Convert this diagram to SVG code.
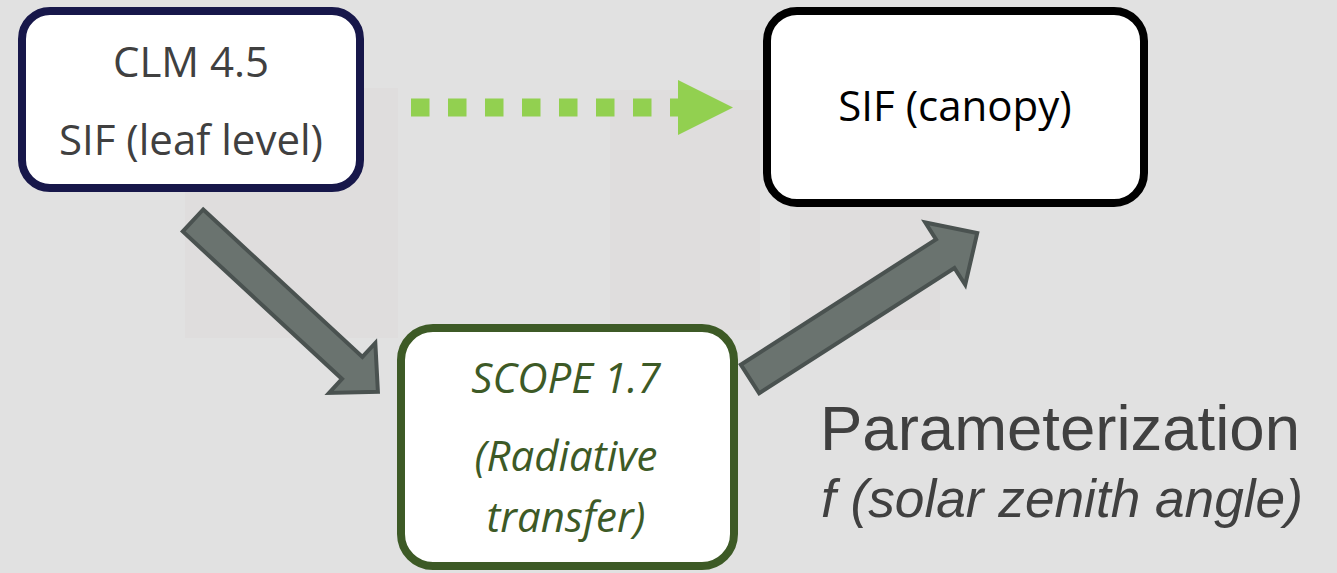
<svg xmlns="http://www.w3.org/2000/svg" width="1337" height="573" viewBox="0 0 1337 573">
  <style>
    .box { fill: #ffffff; stroke-width: 8; }
    .lbl { font-family: "Open Sans", "Noto Sans", sans-serif; font-size: 42px; text-anchor: middle; }
    .block { fill: #6a736f; stroke: #4a5250; stroke-width: 4; stroke-linejoin: miter; }
    .note { font-family: "Liberation Sans", Arial, sans-serif; fill: #404040; }
  </style>

  <!-- backdrop -->
  <rect x="0" y="0" width="1337" height="573" fill="#e1e1e1"/>
  <g opacity="0.4">
    <rect x="185" y="88" width="213" height="250" fill="#dcd8d8"/>
    <rect x="610" y="90" width="150" height="240" fill="#dcd8d8"/>
    <rect x="790" y="210" width="150" height="120" fill="#dbd8d8"/>
  </g>

  <!-- connectors -->
  <g id="connectors">
    <!-- dotted green link between the two SIF levels -->
    <line x1="411" y1="107.5" x2="690" y2="107.5" stroke="#92d050" stroke-width="18" stroke-dasharray="18.5 18.5"/>
    <polygon points="678,80 733,107.5 678,135" fill="#92d050"/>
    <!-- block arrow: CLM to SCOPE -->
    <polygon class="block" transform="translate(193,220.5) rotate(42.8)"
             points="0,-15 217,-15 217,-34 252,0 217,34 217,15 0,15"/>
    <!-- block arrow: SCOPE to canopy -->
    <polygon class="block" transform="translate(750,379) rotate(-32.7)"
             points="0,-17 232,-17 232,-37 270,0 232,37 232,17 0,17"/>
  </g>

  <g id="clm">
    <rect class="box" x="22" y="11" width="338" height="177" rx="28" stroke="#17174a"/>
    <text class="lbl" x="191" y="77" fill="#404040">CLM 4.5</text>
    <text class="lbl" x="191" y="155" fill="#404040">SIF (leaf level)</text>
  </g>

  <g id="canopy">
    <rect class="box" x="767" y="11" width="377" height="192" rx="30" stroke="#000000"/>
    <text class="lbl" x="955" y="121" fill="#000000">SIF (canopy)</text>
  </g>

  <g id="scope">
    <rect class="box" x="401" y="328" width="333" height="238" rx="32" stroke="#3d5a26"/>
    <text class="lbl" x="566" y="393" fill="#3d5a26" font-style="italic">SCOPE 1.7</text>
    <text class="lbl" x="566" y="471" fill="#3d5a26" font-style="italic">(Radiative</text>
    <text class="lbl" x="566" y="532" fill="#3d5a26" font-style="italic">transfer)</text>
  </g>

  <g id="parameterization">
    <text class="note" x="820" y="450" font-size="63.5">Parameterization</text>
    <text class="note" x="821" y="517" font-size="53.2" font-style="italic">f (solar zenith angle)</text>
  </g>
</svg>
